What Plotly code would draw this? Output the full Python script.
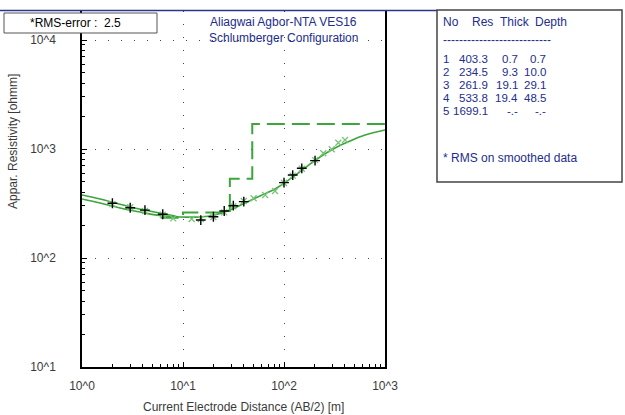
import plotly.graph_objects as go

# ---------------- data ----------------
# layered model (table)
layer_no = [1, 2, 3, 4, 5]
layer_res = [403.3, 234.5, 261.9, 533.8, 1699.1]
layer_thick = ["0.7", "9.3", "19.1", "19.4", "-.-"]
layer_depth = ["0.7", "10.0", "29.1", "48.5", "-.-"]
depth_vals = [0.7, 10.0, 29.1, 48.5]

rms_error = 2.5

# field data (+)
obs_ab = [2.0, 3.0, 4.2, 6.3, 15, 20, 25.6, 31.5, 40, 100, 122, 150, 203]
obs_rho = [318, 289, 275, 252, 223, 239, 270, 302, 329, 491, 577, 665, 782]

# smoothed data (x)
sm_ab = [2.0, 3.0, 4.2, 6.3, 8.0, 12.2, 15, 20, 25.6, 31.5, 40, 50, 65, 81.5,
         100, 122, 150, 203, 245, 297, 345, 402]
sm_rho = [312, 292, 270, 250, 231, 228, 228, 238, 262, 298, 333, 353, 379, 412,
          488, 570, 660, 790, 914, 993, 1143, 1210]

# calculated model curve
curve_ab = [1.0, 1.51, 2.38, 3.75, 5.92, 9.34, 14.7, 20.7, 29.2, 41.1, 57.8,
            81.5, 115, 161, 227, 320, 450, 634, 1000]
curve_rho = [348, 320, 288, 264, 245, 238, 238, 248, 275, 320, 371, 430, 531,
             670, 845, 1021, 1183, 1343, 1493]

# second (upper) curve at short spacings
curve2_ab = [1.0, 1.51, 2.12, 2.99, 4.2, 5.92, 8.33]
curve2_rho = [378, 348, 320, 294, 275, 259, 243]

# the model step line is only visible from this spacing on
step_start = 6.0

x_ticks = [1, 10, 100, 1000]
x_ticktext = ["10^0", "10^1", "10^2", "10^3"]
y_ticks = [10, 100, 1000, 10000]
y_ticktext = ["10^1", "10^2", "10^3", "10^4"]

# ---------------- geometry helpers ----------------
W, H = 625, 415
L, R, T, B = 82, 385, 11, 367


def px(x):
    return (x - L) / (R - L)


def py(y):
    return (B - y) / (B - T)


FONT = "Liberation Sans, Arial, sans-serif"
GREEN = "rgb(60,165,60)"
LGREEN = "rgb(120,195,120)"
BLUE = "rgb(35,45,140)"
GRAY = "#3a3a3a"

fig = go.Figure()

# step model (from layers 2..5)
step_x = [step_start] + depth_vals[1:] + [2000]
step_y = layer_res[1:] + [layer_res[-1]]
fig.add_trace(go.Scatter(x=step_x, y=step_y, mode="lines", line_shape="hv",
                         line=dict(color=GREEN, width=2, dash="18px,7px"),
                         hoverinfo="skip"))

fig.add_trace(go.Scatter(x=curve2_ab, y=curve2_rho, mode="lines", line_shape="spline",
                         line=dict(color=GREEN, width=1.5)))
fig.add_trace(go.Scatter(x=curve_ab, y=curve_rho, mode="lines", line_shape="spline",
                         line=dict(color=GREEN, width=1.6)))

fig.add_trace(go.Scatter(x=sm_ab, y=sm_rho, mode="markers",
                         marker=dict(symbol="x-thin", size=6,
                                     line=dict(color=LGREEN, width=1.3))))
fig.add_trace(go.Scatter(x=obs_ab, y=obs_rho, mode="markers",
                         marker=dict(symbol="cross-thin", size=7,
                                     line=dict(color="black", width=1.4))))

minor_x = [m * 10 ** d for d in range(0, 3) for m in range(2, 10)]
minor_y = [m * 10 ** d for d in range(1, 4) for m in range(2, 10)]

fig.update_xaxes(type="log", range=[0, 3], tickvals=x_ticks, ticktext=x_ticktext,
                 showline=True, linecolor="black", linewidth=1.5, mirror=False,
                 ticks="inside", ticklen=5, tickcolor="black",
                 showgrid=True, gridcolor="#444", griddash="1px,12px", gridwidth=1,
                 zeroline=False,
                 minor=dict(tickvals=minor_x, ticks="inside", ticklen=3,
                            tickcolor="black", showgrid=False),
                 ticklabelstandoff=7,
                 tickfont=dict(family=FONT, size=12, color=GRAY))
fig.update_yaxes(type="log", range=[1, 1 + (B - T) / 109.0], tickvals=y_ticks,
                 ticktext=y_ticktext,
                 showline=True, linecolor="black", linewidth=1.5, mirror=True,
                 ticks="inside", ticklen=5, tickcolor="black",
                 showgrid=True, gridcolor="#444", griddash="1px,12px", gridwidth=1,
                 zeroline=False,
                 minor=dict(tickvals=minor_y, ticks="inside", ticklen=3,
                            tickcolor="black", showgrid=False),
                 ticklabelstandoff=22,
                 tickfont=dict(family=FONT, size=12, color=GRAY))

shapes = []
# white header area inside the plot (covers grid)
shapes.append(dict(type="rect", xref="paper", yref="paper", x0=px(L + 1), x1=px(R - 1),
                   y0=py(50), y1=py(T), fillcolor="white", line=dict(width=0),
                   layer="between"))
# top blue line
shapes.append(dict(type="line", xref="paper", yref="paper", x0=px(0), x1=px(437),
                   y0=py(10.5), y1=py(10.5), line=dict(color="rgb(40,55,140)", width=1.5),
                   layer="above"))
# short right-axis tick at 10^3
shapes.append(dict(type="line", xref="paper", yref="y", x0=px(R - 7), x1=px(R),
                   y0=3, y1=3, line=dict(color="black", width=1.5), layer="above"))
# RMS box
shapes.append(dict(type="rect", xref="paper", yref="paper", x0=px(4), x1=px(157),
                   y0=py(33), y1=py(13), fillcolor="white",
                   line=dict(color="#555", width=1), layer="above"))
# table box
shapes.append(dict(type="rect", xref="paper", yref="paper", x0=px(437), x1=px(622),
                   y0=py(182), y1=py(10), fillcolor="white",
                   line=dict(color="#444", width=1.5), layer="above"))

ann = []


def text(x, y, s, color=BLUE, size=12, anchor="left"):
    ann.append(dict(x=px(x), y=py(y), xref="paper", yref="paper", text=s,
                    showarrow=False, xanchor=anchor, yanchor="middle",
                    font=dict(family=FONT, size=size, color=color)))


text(75, 23, "*RMS-error :  %.1f" % rms_error, color="black", anchor="center")
text(283, 22, "Aliagwai Agbor-NTA VES16", anchor="center")
text(283, 38, "Schlumberger Configuration", anchor="center")

# axis titles
ann.append(dict(x=px(13), y=py(142), xref="paper", yref="paper",
                text="Appar. Resistivity [ohmm]", textangle=-90, showarrow=False,
                xanchor="center", yanchor="middle",
                font=dict(family=FONT, size=12, color=GRAY)))
ann.append(dict(x=px(243), y=py(407), xref="paper", yref="paper",
                text="Current Electrode Distance (AB/2) [m]", showarrow=False,
                xanchor="center", yanchor="middle",
                font=dict(family=FONT, size=12, color=GRAY)))

# table
text(441, 22, "No")
text(470, 22, "Res")
text(498, 22, "Thick")
text(533, 22, "Depth")
text(441, 40, "---------------------------")
row_y = [59, 72, 85, 98, 111]
RS = 11.5
for i in range(5):
    text(446, row_y[i], str(layer_no[i]), size=RS, anchor="center")
    text(490, row_y[i], "%.1f" % layer_res[i], size=RS, anchor="right")
    if layer_thick[i] == "-.-":
        text(512, row_y[i], "-.-", size=RS, anchor="center")
        text(540, row_y[i], "-.-", size=RS, anchor="center")
    else:
        text(520, row_y[i], layer_thick[i], size=RS, anchor="right")
        text(548, row_y[i], layer_depth[i], size=RS, anchor="right")
text(441, 158, "* RMS on smoothed data")

fig.update_layout(width=W, height=H, margin=dict(l=L, r=W - R, t=T, b=H - B),
                  paper_bgcolor="white", plot_bgcolor="white", showlegend=False,
                  shapes=shapes, annotations=ann)

fig.write_html("out.html")
